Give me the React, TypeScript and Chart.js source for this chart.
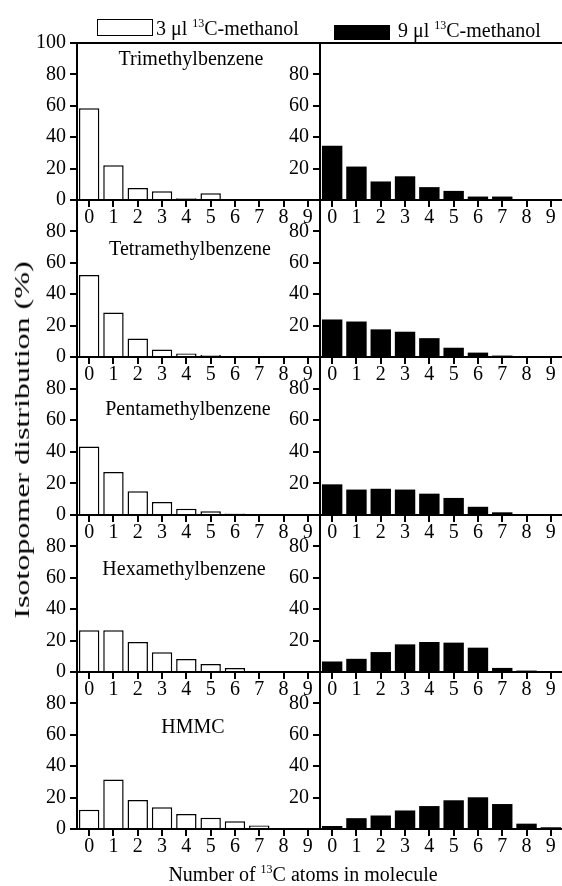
import React, { useEffect, useRef } from 'react';
import { Chart, registerables } from 'chart.js';

Chart.register(...registerables);

const FONT = "'Liberation Serif', 'Times New Roman', Times, serif";

// ---- data ----
const categories = ['0', '1', '2', '3', '4', '5', '6', '7', '8', '9'];
const panelTitles = ['Trimethylbenzene', 'Tetramethylbenzene', 'Pentamethylbenzene', 'Hexamethylbenzene', 'HMMC'];
const yTickValues = [0, 20, 40, 60, 80, 100];

const tri3 = [58.5, 22.2, 7.7, 5.6, 1.1, 4.3, 0, 0, 0, 0];
const tri9 = [34.6, 21.3, 11.8, 15.1, 8.2, 5.8, 2.2, 2.2, 0, 0];
const tetra3 = [52.3, 28.4, 11.8, 4.7, 2.2, 1.3, 0, 0, 0, 0];
const tetra9 = [23.9, 22.6, 17.6, 16.1, 12.0, 5.9, 2.8, 0.9, 0, 0];
const penta3 = [43.4, 27.2, 15.1, 8.3, 4.0, 2.3, 0.9, 0, 0, 0];
const penta9 = [19.4, 16.1, 16.6, 16.1, 13.5, 10.8, 5.2, 1.7, 0.4, 0.3];
const hexa3 = [26.6, 26.6, 19.1, 12.6, 8.3, 5.1, 2.6, 0, 0, 0];
const hexa9 = [6.7, 8.4, 12.7, 17.6, 19.1, 18.7, 15.5, 2.6, 0.9, 0];
const hmmc3 = [12.3, 31.5, 18.5, 13.8, 9.6, 7.2, 4.9, 2.3, 0, 0];
const hmmc9 = [1.9, 6.9, 8.6, 11.8, 14.6, 18.3, 20.2, 15.9, 3.4, 1.1];

const series3 = [tri3, tetra3, penta3, hexa3, hmmc3];
const series9 = [tri9, tetra9, penta9, hexa9, hmmc9];

// ---- layout (positions only) ----
const COL_LEFT = [77, 320];
const AREA_W = 243;
const ROW_TOP = [43, 200, 357, 515, 672];
const ROW_BOTTOM = [200, 357, 515, 672, 829];
const YW = 50;
const PT = 14;
const PR = 10;
const XH = 34;
const TITLE_POS: [number, number][] = [[191, 48], [190, 238], [188, 398], [184, 558], [193, 716]];

type Panel = { row: number; col: number; values: number[] };
const panels: Panel[] = [];
for (let r = 0; r < 5; r++) {
  panels.push({ row: r, col: 0, values: series3[r] });
  panels.push({ row: r, col: 1, values: series9[r] });
}

function panelBox(p: Panel) {
  const h = ROW_BOTTOM[p.row] - ROW_TOP[p.row];
  return {
    left: COL_LEFT[p.col] - YW,
    top: ROW_TOP[p.row] - PT,
    width: YW + AREA_W + PR,
    height: PT + h + XH,
  };
}

function makeConfig(p: Panel): any {
  const hollow = p.col === 0;
  const tickFont = { family: FONT, size: 20, lineHeight: 1 };
  const scales: any = {
    x: {
      type: 'category',
      position: 'bottom',
      offset: true,
      grid: { display: true, offset: false, drawOnChartArea: false, drawTicks: true, tickLength: 7, color: '#000', lineWidth: 2 },
      border: { display: true, color: '#000', width: 2 },
      ticks: { color: '#000', font: tickFont, padding: 1, maxRotation: 0, minRotation: 0, autoSkip: false },
      afterFit: (s: any) => { s.height = XH; },
    },
    y: {
      type: 'linear',
      position: 'left',
      min: yTickValues[0],
      max: yTickValues[yTickValues.length - 1],
      grid: { display: true, drawOnChartArea: false, drawTicks: true, tickLength: 7, color: '#000', lineWidth: 2 },
      border: { display: true, color: '#000', width: 2 },
      ticks: {
        stepSize: 20,
        color: '#000',
        font: tickFont,
        padding: 4,
        callback: (v: number) => {
          if (v === 100 && !(p.col === 0 && p.row === 0)) return '';
          if (v === 0 && p.col === 1) return '';
          return String(v);
        },
      },
      afterFit: (s: any) => { s.width = YW; },
    },
  };
  if (p.row === 0) {
    scales.xTop = {
      type: 'category',
      position: 'top',
      grid: { display: false },
      ticks: { display: false },
      border: { display: true, color: '#000', width: 2 },
      afterFit: (s: any) => { s.height = 0; },
    };
  }
  return {
    type: 'bar',
    data: {
      labels: categories,
      datasets: [
        {
          data: p.values,
          backgroundColor: hollow ? '#ffffff' : '#000000',
          borderColor: '#000000',
          borderWidth: hollow ? 1.5 : 0,
          barPercentage: 0.84,
          categoryPercentage: 1,
        },
      ],
    },
    options: {
      responsive: false,
      maintainAspectRatio: false,
      animation: false,
      devicePixelRatio: 1,
      layout: { padding: { top: PT, right: PR, left: 0, bottom: 0 } },
      plugins: { legend: { display: false }, tooltip: { enabled: false }, title: { display: false } },
      scales,
    },
  };
}

const textBase: React.CSSProperties = {
  position: 'absolute',
  fontFamily: FONT,
  fontSize: 20,
  lineHeight: '20px',
  color: '#000',
  whiteSpace: 'nowrap',
};
const supStyle: React.CSSProperties = { fontSize: 12, lineHeight: 0, verticalAlign: 'baseline', position: 'relative', top: -8 };

export default function App() {
  const refs = useRef<(HTMLCanvasElement | null)[]>([]);

  useEffect(() => {
    const charts: Chart[] = [];
    panels.forEach((p, i) => {
      const c = refs.current[i];
      if (c) charts.push(new Chart(c, makeConfig(p)));
    });
    return () => charts.forEach((c) => c.destroy());
  }, []);

  return (
    <div style={{ position: 'absolute', left: 0, top: 0, width: 562, height: 886, overflow: 'hidden', background: '#fff' }}>
      {panels.map((p, i) => {
        const b = panelBox(p);
        return (
          <canvas
            key={i}
            ref={(el) => { refs.current[i] = el; }}
            width={b.width}
            height={b.height}
            style={{ position: 'absolute', left: b.left, top: b.top, width: b.width, height: b.height }}
          />
        );
      })}

      {/* legend */}
      <div style={{ position: 'absolute', left: 97, top: 19, width: 56, height: 17, border: '1.5px solid #000', boxSizing: 'border-box', background: '#fff' }} />
      <div style={{ ...textBase, left: 156, top: 18 }}>
        3 μl <sup style={supStyle}>13</sup>C-methanol
      </div>
      <div style={{ position: 'absolute', left: 334, top: 25, width: 56, height: 15, background: '#000' }} />
      <div style={{ ...textBase, left: 398, top: 20 }}>
        9 μl <sup style={supStyle}>13</sup>C-methanol
      </div>

      {/* panel titles */}
      {panelTitles.map((t, r) => (
        <div key={t} style={{ ...textBase, left: TITLE_POS[r][0], top: TITLE_POS[r][1], transform: 'translateX(-50%)' }}>
          {t}
        </div>
      ))}

      {/* axis titles */}
      <div
        style={{
          ...textBase,
          left: 22,
          top: 440,
          transform: 'translate(-50%, -50%) rotate(-90deg) scaleX(1.6)',
        }}
      >
        Isotopomer distribution (%)
      </div>
      <div style={{ ...textBase, left: 303, top: 864, transform: 'translateX(-50%)' }}>
        Number of <sup style={supStyle}>13</sup>C atoms in molecule
      </div>
    </div>
  );
}
